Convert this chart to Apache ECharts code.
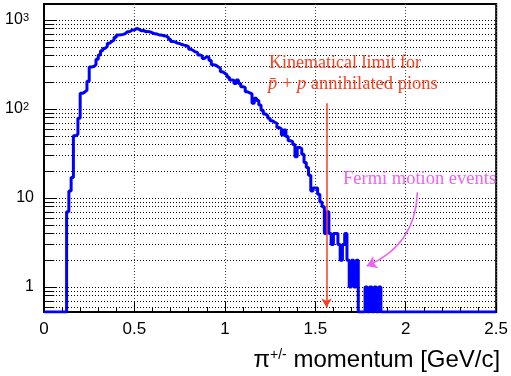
<!DOCTYPE html>
<html><head><meta charset="utf-8">
<script src="https://cdn.jsdelivr.net/npm/echarts@6/dist/echarts.min.js"></script>
<style>html,body{margin:0;padding:0;background:#fff}#c{width:511px;height:376px}</style>
</head><body><div id="c"></div>
<script>
// ---- data ----
const binWidth = 0.0125;       // GeV/c per bin (200 bins from 0 to 2.5)
const xMin = 0, xMax = 2.5;
const yMin = 0.524, yMax = 1514;
const counts = [
  0,0,0,0,0,0,0,0,0,0,
  7,12,17,50,52,79,150,155,163,205,
  296,300,315,362,405,452,480,505,547,575,
  598,640,678,682,690,705,739,745,772,775,
  805,790,760,765,740,745,735,718,700,695,
  680,678,665,660,640,607,575,568,550,545,
  530,522,515,500,470,455,438,430,405,395,
  370,388,380,352,315,310,298,287,262,252,
  241,228,212,210,194,212,194,178,175,156,
  152,148,116,132,125,111,97,88,84,79,
  74,71,69,62,60,51,58,49,44,43,
  40,29,37,36,31,25,22,18,12,13,
  13,11,9,8,4,7,4,3,4,4,
  3,2,3,4,2,1,2,1,2,0,
  0,0,1,0,1,0,1,0,1,0,
  0,0,0,0,0,0,0,0,0,0,
  0,0,0,0,0,0,0,0,0,0,
  0,0,0,0,0,0,0,0,0,0,
  0,0,0,0,0,0,0,0,0,0,
  0,0,0,0,0,0,0,0,0,0
];
const xTickLabels = ['0','0.5','1','1.5','2','2.5'];
const yTickValues = [1, 10, 100, 1000];
const yTickLabels = [{base:'1'},{base:'10'},{base:'10',exp:'2'},{base:'10',exp:'3'}];
const kinematicLimit = 1.562;
const limitArrowFrom = 116, limitArrowTo = 0.59;
const fermiArrowFrom = [2.064, 11.6], fermiArrowTo = [1.784, 1.72];

const RED = '#f8401f', MAGENTA = '#f062f0', BLUE = '#0000ff';

// ---- build ----
const histData = [];
for (let i = 0; i < counts.length; i++) {
  const x = +(i * binWidth).toFixed(4);
  histData.push([x, counts[i] > 0 ? counts[i] : yMin]);
}
histData.push([xMax, counts[counts.length-1] > 0 ? counts[counts.length-1] : yMin]);

const gridLines = [], tickSegs = [];
for (let k = -1; k <= 3; k++) {
  for (let m = 1; m <= 9; m++) {
    const v = +(m * Math.pow(10, k)).toPrecision(6);
    if (v > yMin && v < yMax) {
      gridLines.push({yAxis: v});
      tickSegs.push([{coord:[xMin, v], lineStyle:{type:'solid', width:1, color:'#000'}},
                     {coord:[xMin + (m === 1 ? 0.072 : 0.057), v]}]);
    }
  }
}

const chart = echarts.init(document.getElementById('c'), null, {renderer:'canvas', width:511, height:376});
chart.setOption({
  animation: false,
  backgroundColor: '#fff',
  grid: {left:44, right:13, top:4, bottom:64, show:true, borderColor:'#000', borderWidth:2, backgroundColor:'transparent'},
  xAxis: {
    type:'value', min:xMin, max:xMax, interval:0.5,
    axisLine:{show:true, onZero:false, lineStyle:{color:'#000', width:2}},
    axisTick:{show:true, inside:true, length:10, lineStyle:{color:'#000', width:1}},
    minorTick:{show:true, splitNumber:5, length:5, lineStyle:{color:'#000', width:1}},
    splitLine:{show:true, lineStyle:{color:'#444', type:[1,2], width:1}},
    axisLabel:{fontFamily:'Liberation Sans', fontSize:17, color:'#000', margin:9,
      formatter: v => xTickLabels[Math.round(v / 0.5)] || ''},
    name:'{a|π}{s|+/-}{a| momentum [GeV/c]}',
    nameLocation:'end', nameGap:4, nameMoveOverlap:false,
    nameTextStyle:{align:'right', verticalAlign:'top', padding:[36,0,0,0],
      rich:{a:{fontFamily:'Liberation Sans', fontSize:24, color:'#000'},
            s:{fontFamily:'Liberation Sans', fontSize:14, color:'#000', verticalAlign:'top'}}}
  },
  yAxis: {
    type:'log', logBase:10, min:yMin, max:yMax,
    axisLine:{show:true, onZero:false, lineStyle:{color:'#000', width:2}},
    axisTick:{show:false}, splitLine:{show:false}, minorTick:{show:false},
    axisLabel:{showMinLabel:false, showMaxLabel:false, margin:10, color:'#000',
      formatter: function(v){
        const e = Math.log10(v), r = Math.round(e);
        if (Math.abs(e - r) > 1e-6) return '';
        const idx = yTickValues.indexOf(Math.pow(10, r));
        if (idx < 0) return '';
        const t = yTickLabels[idx];
        return t.exp ? '{b|' + t.base + '}{s|' + t.exp + '}{sp| }' : '{b|' + t.base + '}';
      },
      rich:{b:{fontFamily:'Liberation Sans', fontSize:16, color:'#000'},
            s:{fontFamily:'Liberation Sans', fontSize:11, color:'#000', verticalAlign:'top'},
            sp:{fontSize:5, width:5}}}
  },
  series: [
    {type:'line', name:'hist', data:histData, step:'end', symbol:'none', z:10, clip:true,
     lineStyle:{color:BLUE, width:3}, silent:true},
    {type:'line', name:'grid', data:[], silent:true,
     markLine:{silent:true, z:5, symbol:['none','none'], label:{show:false},
       lineStyle:{color:'#000', type:[1,2], width:1}, emphasis:{disabled:true},
       data: gridLines.concat(tickSegs)}},
    {type:'line', name:'limit', data:[], silent:true,
     markLine:{silent:true, z:12, symbol:['none','arrow'], symbolSize:[8,9], label:{show:false}, emphasis:{disabled:true},
       lineStyle:{color:RED, width:1.5, type:'solid'},
       data:[[{coord:[kinematicLimit, limitArrowFrom]}, {coord:[kinematicLimit, limitArrowTo]}]]}},
    {type:'lines', name:'fermi', coordinateSystem:'cartesian2d', silent:true, z:12,
     symbol:['none','arrow'], symbolSize:[9,10],
     lineStyle:{color:MAGENTA, width:1.5, type:'solid', curveness:0.32, opacity:1},
     data:[{coords:[fermiArrowFrom, fermiArrowTo]}]}
  ],
  graphic: [
    {type:'text', left:269, top:54, z:20, style:{text:'Kinematical limit for', font:'18px "Liberation Serif"', fill:RED}},
    {type:'text', left:268, top:75, z:20, style:{text:'{i|p\u0304}{n| + }{i|p}{n| annihilated pions}',
      rich:{i:{fontFamily:'Liberation Serif', fontStyle:'italic', fontSize:18.5, fill:RED},
            n:{fontFamily:'Liberation Serif', fontSize:18.5, fill:RED}}}},
    {type:'text', left:343, top:170, z:20, style:{text:'Fermi motion events', font:'18.5px "Liberation Serif"', fill:MAGENTA}}
  ]
});
</script></body></html>
